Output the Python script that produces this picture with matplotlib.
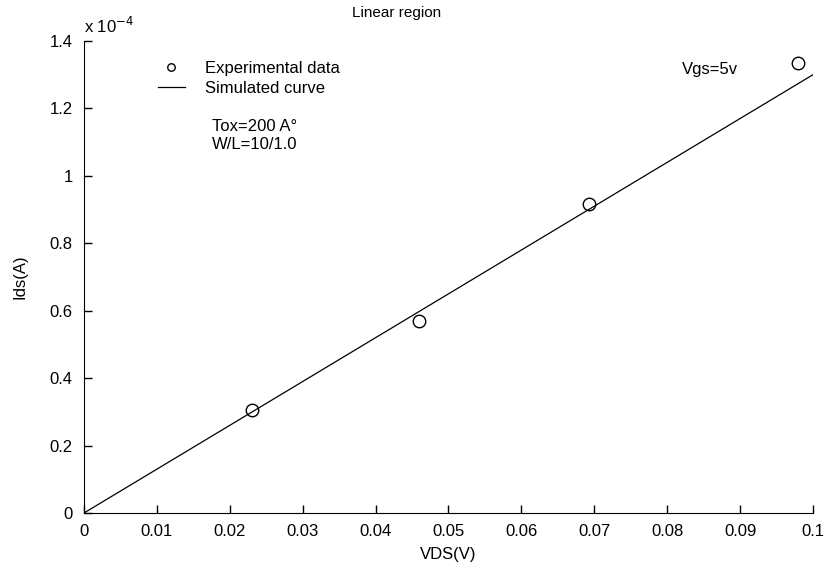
import numpy as np
import matplotlib.pyplot as plt

plt.rcParams['font.family'] = ['Liberation Sans', 'DejaVu Sans']

# Messdaten (Ids in 1e-4 A)
vds_exp = [0.023, 0.046, 0.0693, 0.098]
ids_exp = [0.305, 0.57, 0.915, 1.335]

# Simulierte Kurve
vds_sim = [0.0, 0.1]
ids_sim = [0.0, 1.3]

x_ticks = [0, 0.01, 0.02, 0.03, 0.04, 0.05, 0.06, 0.07, 0.08, 0.09, 0.1]
x_labels = ['0', '0.01', '0.02', '0.03', '0.04', '0.05', '0.06', '0.07', '0.08', '0.09', '0.1']
y_ticks = [0, 0.2, 0.4, 0.6, 0.8, 1.0, 1.2, 1.4]
y_labels = ['0', '0.2', '0.4', '0.6', '0.8', '1', '1.2', '1.4']

fig = plt.figure(figsize=(8.28, 5.69), dpi=100)
ax = fig.add_axes([0.1014, 0.0984, 0.8805, 0.8296])

ax.plot(vds_exp, ids_exp, 'o', mfc='none', mec='black', ms=9, mew=1.0,
        label='Experimental data')
ax.plot(vds_sim, ids_sim, '-', color='black', lw=0.9, label='Simulated curve')

ax.set_xlim(0, 0.1)
ax.set_ylim(0, 1.4)
ax.set_xticks(x_ticks)
ax.set_xticklabels(x_labels)
ax.set_yticks(y_ticks)
ax.set_yticklabels(y_labels)
ax.tick_params(direction='in', length=6, labelsize=12, width=1)
ax.tick_params(axis='x', pad=8)
ax.tick_params(axis='y', pad=8)
ax.spines['top'].set_visible(False)
ax.spines['right'].set_visible(False)

ax.set_xlabel('VDS(V)', fontsize=12, labelpad=6)
ax.set_ylabel('Ids(A)', fontsize=12, labelpad=16)
fig.text(397 / 828, 1 - 13 / 569, 'Linear region', fontsize=11,
         ha='center', va='center')

ax.text(0.0, 1.01, r'x 10$^{-4}$', transform=ax.transAxes, fontsize=12,
        ha='left', va='bottom')

ax.legend(loc='upper left', bbox_to_anchor=(0.09, 0.975), frameon=False,
          fontsize=12, handlelength=1.6, markerscale=0.6, borderpad=0,
          labelspacing=0.3, handletextpad=1.2)

ax.text(0.175, 0.835, 'Tox=200 A°\nW/L=10/1.0', transform=ax.transAxes,
        fontsize=12, va='top', linespacing=1.3)
ax.text(0.82, 0.9386, 'Vgs=5v', transform=ax.transAxes, fontsize=12, va='center')

plt.savefig('out.png', dpi=100)
